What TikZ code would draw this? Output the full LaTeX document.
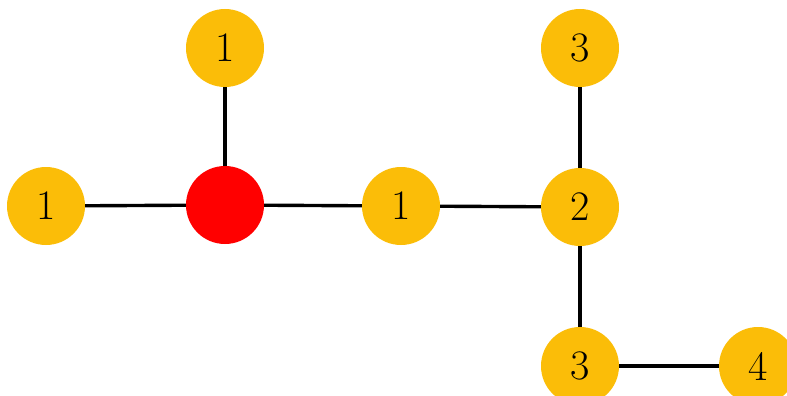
\documentclass[tikz,border=0pt]{standalone}
\begin{document}
\begin{tikzpicture}[x=1pt,y=-1pt,
  vtx/.style={circle,fill=nodeyellow,minimum size=78pt,inner sep=0pt,font=\fontsize{42}{48}\selectfont},
  root/.style={circle,fill=red,minimum size=78pt,inner sep=0pt},
  edge/.style={line width=3.4pt,black}]
\definecolor{nodeyellow}{RGB}{251,189,8}
\useasboundingbox (0,0) rectangle (787,396);
\clip (0,0) rectangle (787,396);
\node[root] (r) at (225,205) {};
\node[vtx] (a) at (46,206) {1};
\node[vtx] (b) at (225,48) {1};
\node[vtx] (c) at (401,206) {1};
\node[vtx] (d) at (580,207) {2};
\node[vtx] (e) at (580,48) {3};
\node[vtx] (f) at (580,366) {3};
\node[vtx] (g) at (758,366) {4};
\draw[edge] (a) -- (r);
\draw[edge] (b) -- (r);
\draw[edge] (r) -- (c);
\draw[edge] (c) -- (d);
\draw[edge] (e) -- (d);
\draw[edge] (d) -- (f);
\draw[edge] (f) -- (g);
\end{tikzpicture}
\end{document}
